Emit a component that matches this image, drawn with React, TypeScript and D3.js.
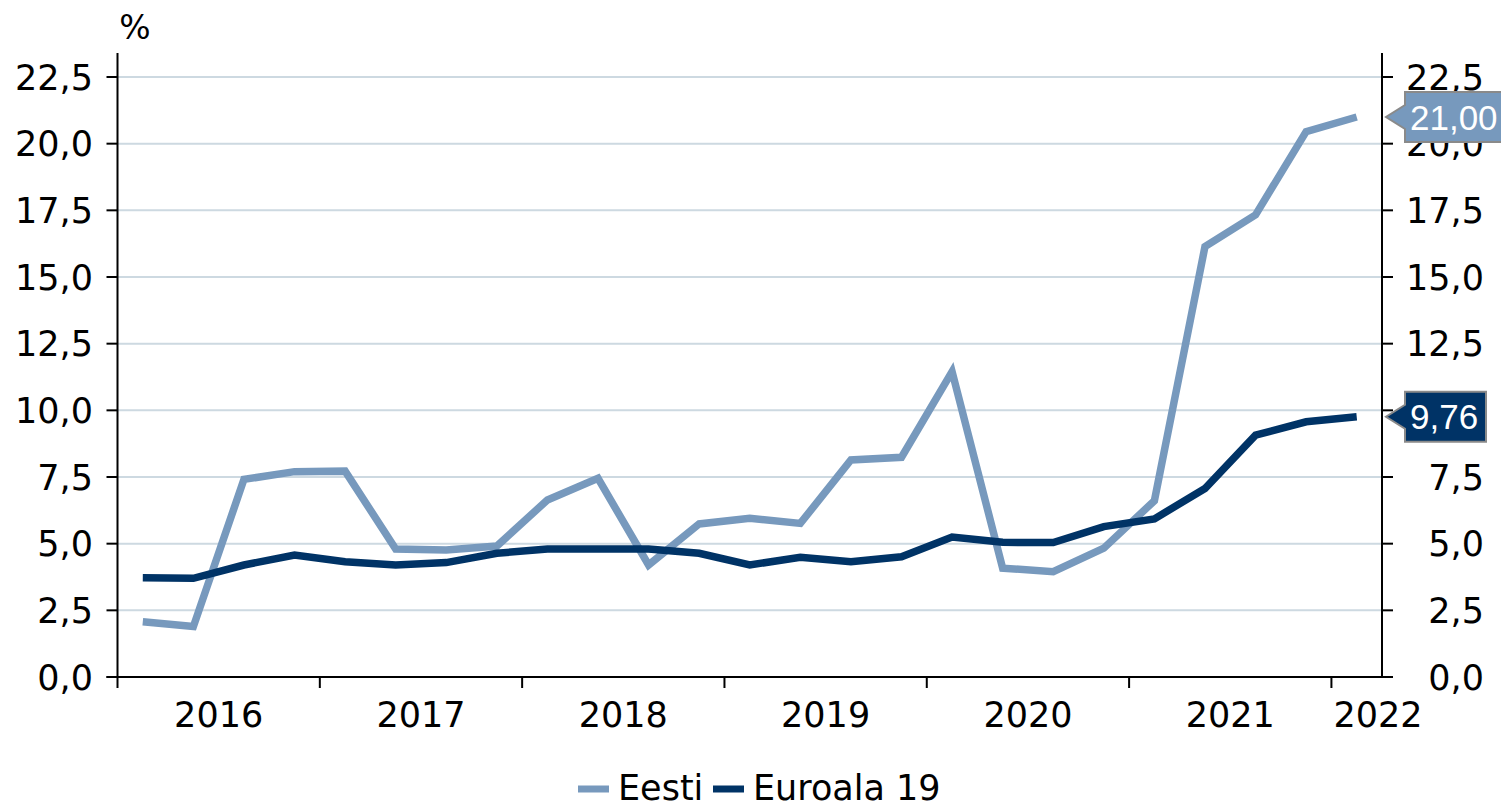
import React from 'react';
import * as d3 from 'd3';

// quarterly, 2016 Q1 .. 2022 Q1
const years = ['2016', '2017', '2018', '2019', '2020', '2021', '2022'];
const eesti = [
  2.07, 1.89, 7.41, 7.7, 7.72, 4.8, 4.76, 4.91,
  6.64, 7.45, 4.2, 5.74, 5.95, 5.76, 8.14, 8.24,
  11.45, 4.08, 3.95, 4.83, 6.61, 16.14, 17.33, 20.45, 21.0,
];
const euroala = [
  3.72, 3.7, 4.2, 4.57, 4.32, 4.2, 4.29, 4.64,
  4.8, 4.8, 4.8, 4.64, 4.2, 4.49, 4.32, 4.51,
  5.25, 5.05, 5.04, 5.64, 5.93, 7.07, 9.07, 9.57, 9.76,
];
const yTicks = [0, 2.5, 5, 7.5, 10, 12.5, 15, 17.5, 20, 22.5];
const seriesNames = ['Eesti', 'Euroala 19'];
const colors = ['#7799bd', '#003366'];

const W = 1501;
const H = 803;
const FONT = '"DejaVu Sans", Verdana, sans-serif';

const fmt = (v: number, d: number) => v.toFixed(d).replace('.', ',');

export default function App() {
  const x = d3.scaleLinear().domain([0, 25]).range([117.5, 1382]);
  const y = d3.scaleLinear().domain([0, 22.5]).range([677, 77]);
  const left = x(0);
  const right = x(25);

  const line = d3
    .line<number>()
    .x((_, i) => x(i + 0.5))
    .y((d) => y(d));

  const series = [eesti, euroala];

  return (
    <svg
      width={W}
      height={H}
      style={{ position: 'fixed', left: 0, top: 0, background: '#fff' }}
      fontFamily={FONT}
    >
      {/* grid */}
      {yTicks.slice(1).map((t) => (
        <line key={'g' + t} x1={left} x2={right} y1={y(t)} y2={y(t)} stroke="#cdd9e1" strokeWidth={2} />
      ))}

      {/* left axis */}
      <line x1={left} x2={left} y1={53} y2={y(0)} stroke="#000" strokeWidth={2} />
      {yTicks.map((t) => (
        <g key={'l' + t}>
          <line x1={left - 11} x2={left} y1={y(t)} y2={y(t)} stroke="#000" strokeWidth={2} />
          <text x={93} y={y(t)} dy="0.36em" textAnchor="end" fontSize={35} fill="#000">
            {fmt(t, 1)}
          </text>
        </g>
      ))}
      <text x={135} y={39} textAnchor="middle" fontSize={33} fill="#000">%</text>

      {/* right axis */}
      <line x1={right} x2={right} y1={53} y2={y(0)} stroke="#000" strokeWidth={2} />
      {yTicks.map((t) => (
        <g key={'r' + t}>
          <line x1={right} x2={right + 11} y1={y(t)} y2={y(t)} stroke="#000" strokeWidth={2} />
          <text x={1484} y={y(t)} dy="0.36em" textAnchor="end" fontSize={35} fill="#000">
            {fmt(t, 1)}
          </text>
        </g>
      ))}

      {/* x axis */}
      <line x1={left - 11} x2={right} y1={y(0)} y2={y(0)} stroke="#000" strokeWidth={2} />
      {years.map((yr, i) => {
        const q0 = i * 4;
        const tx = x(q0);
        const last = i === years.length - 1;
        return (
          <g key={yr}>
            <line x1={tx} x2={tx} y1={y(0)} y2={y(0) + 11} stroke="#000" strokeWidth={2} />
            <text
              x={last ? tx + 2 : x(q0 + 2)}
              y={727}
              textAnchor={last ? 'start' : 'middle'}
              fontSize={35}
              fill="#000"
            >
              {yr}
            </text>
          </g>
        );
      })}

      {/* lines */}
      {series.map((s, k) => (
        <path
          key={seriesNames[k]}
          d={line(s) || ''}
          fill="none"
          stroke={colors[k]}
          strokeWidth={7.5}
          strokeLinejoin="miter"
        />
      ))}

      {/* last value callouts */}
      {series.map((s, k) => {
        const v = s[s.length - 1];
        const cy = y(v);
        const bx = 1405;
        const bw = k === 0 ? 110 : 81;
        const path = `M${bx},${cy - 25} H${bx + bw} V${cy + 25} H${bx} V${cy + 12} L${bx - 19},${cy} L${bx},${cy - 12} Z`;
        return (
          <g key={'c' + k}>
            <path d={path} fill={colors[k]} stroke="#8a8a8a" strokeWidth={2} />
            <text
              x={bx + 5}
              y={cy}
              dy="0.36em"
              fontFamily='"Liberation Sans", Arial, sans-serif'
              fontSize={35}
              fill="#fff"
            >
              {fmt(v, 2)}
            </text>
          </g>
        );
      })}

      {/* legend */}
      {seriesNames.map((name, k) => {
        const lx = k === 0 ? 578 : 713;
        return (
          <g key={'lg' + k}>
            <line x1={lx} x2={lx + 31} y1={789} y2={789} stroke={colors[k]} strokeWidth={7} />
            <text x={lx + 40} y={800} fontSize={35} fill="#000">{name}</text>
          </g>
        );
      })}
    </svg>
  );
}
